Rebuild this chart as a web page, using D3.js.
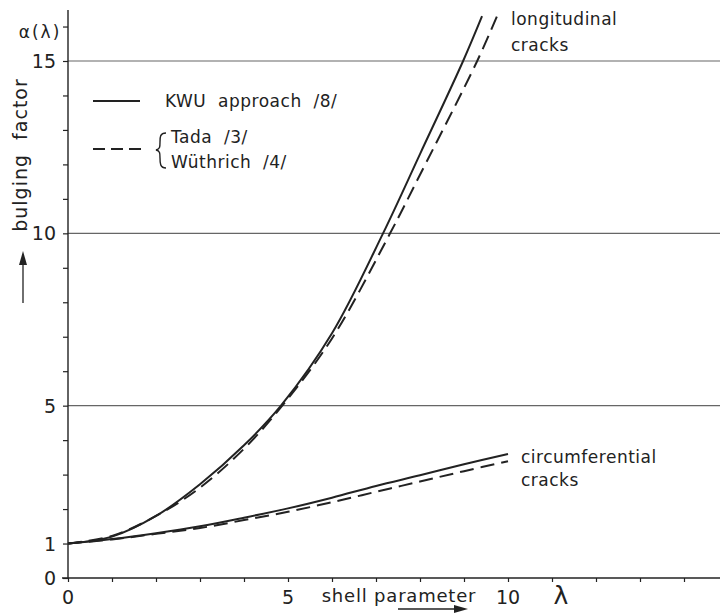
<!DOCTYPE html>
<html>
<head>
<meta charset="utf-8">
<script src="https://cdn.jsdelivr.net/npm/d3@7"></script>
<style>
  body { margin: 0; background: #fff; }
  svg text { font-family: "DejaVu Sans", sans-serif; fill: #222; white-space: pre; }
</style>
</head>
<body>
<div id="container"></div>
<script>
let width = 720;
let height = 613;

// values (lambda, alpha)
var longLambda  = [0, 1, 2, 3, 4, 4.84, 6, 7.16, 8, 8.98, 9.41];
var longKwu     = [1, 1.2, 1.8, 2.72, 3.85, 5, 7.1, 10, 12.3, 15, 16.3];
var longDashLambda = [0, 1, 2, 3, 4, 4.87, 6, 7.32, 8, 9.3, 9.75];
var longTada       = [1, 1.22, 1.8, 2.62, 3.75, 5, 6.95, 10, 11.7, 15, 16.3];

var circLambda = [0, 1, 2, 3, 4, 5, 6, 7, 8, 9, 10];
var circKwu    = [1, 1.13, 1.3, 1.5, 1.75, 2.02, 2.33, 2.67, 2.98, 3.3, 3.6];
var circTada   = [1, 1.12, 1.28, 1.45, 1.68, 1.92, 2.2, 2.5, 2.8, 3.1, 3.39];

var yLabelTicks = [0, 1, 5, 10, 15];
var yGrid = [5, 10, 15];
var xLabelTicks = [0, 5, 10];

let viz = d3.select("#container").append("svg")
    .attr("width", width)
    .attr("height", height);

let x = d3.scaleLinear().domain([0, 10]).range([68, 508]);
let y = d3.scaleLinear().domain([0, 15]).range([578, 61]);

let ink = "#222";

// grid lines
viz.selectAll(".grid")
  .data(yGrid)
  .enter().append("line")
    .attr("x1", x(0)).attr("x2", width)
    .attr("y1", d => y(d)).attr("y2", d => y(d))
    .attr("stroke", "#666").attr("stroke-width", 1.1);

// y axis
let yAxis = d3.axisLeft(y)
  .tickValues(d3.range(0, 17))
  .tickSize(5)
  .tickFormat("");
let yg = viz.append("g").attr("transform", "translate(" + x(0) + ",0)").call(yAxis);
yg.select(".domain").remove();
yg.selectAll("line").attr("stroke", ink).attr("stroke-width", 1.2);
viz.append("line")
  .attr("x1", x(0)).attr("x2", x(0)).attr("y1", y(0)).attr("y2", 10)
  .attr("stroke", ink).attr("stroke-width", 1.4);

// x axis
let xAxis = d3.axisBottom(x)
  .tickValues(d3.range(0, 15))
  .tickSize(4)
  .tickFormat("");
let xg = viz.append("g").attr("transform", "translate(0," + y(0) + ")").call(xAxis);
xg.select(".domain").remove();
xg.selectAll("line").attr("stroke", ink).attr("stroke-width", 1.2);
viz.append("line")
  .attr("x1", x(0) - 6).attr("x2", width).attr("y1", y(0)).attr("y2", y(0))
  .attr("stroke", ink).attr("stroke-width", 1.4);

// tick labels
viz.selectAll(".ylab")
  .data(yLabelTicks)
  .enter().append("text")
    .attr("x", 56)
    .attr("y", d => y(d) + 7)
    .attr("text-anchor", "end")
    .style("font-size", "19px")
    .text(d => d);

viz.selectAll(".xlab")
  .data(xLabelTicks)
  .enter().append("text")
    .attr("x", d => x(d))
    .attr("y", 604)
    .attr("text-anchor", "middle")
    .style("font-size", "19px")
    .text(d => d);

// axis titles
viz.append("text")
  .attr("x", 40).attr("y", 38)
  .attr("text-anchor", "middle")
  .style("font-size", "17px")
  .style("letter-spacing", "2px")
  .text("α(λ)");

viz.append("text")
  .attr("transform", "translate(27,155) rotate(-90)")
  .attr("text-anchor", "middle")
  .style("font-size", "19px")
  .style("letter-spacing", "1px")
  .text("bulging  factor");

viz.append("line")
  .attr("x1", 23).attr("x2", 23).attr("y1", 303).attr("y2", 262)
  .attr("stroke", ink).attr("stroke-width", 1.3);
viz.append("path")
  .attr("d", "M23,251 L19,265 L27,265 Z")
  .attr("fill", ink);

viz.append("text")
  .attr("x", 399).attr("y", 602)
  .attr("text-anchor", "middle")
  .style("font-size", "18px")
  .style("letter-spacing", "0.8px")
  .text("shell parameter");

viz.append("text")
  .attr("x", 561).attr("y", 604)
  .attr("text-anchor", "middle")
  .style("font-size", "25px")
  .text("λ");

viz.append("line")
  .attr("x1", 398).attr("x2", 456).attr("y1", 609).attr("y2", 609)
  .attr("stroke", ink).attr("stroke-width", 1.5);
viz.append("path")
  .attr("d", "M468,609 L454,605 L454,613 Z")
  .attr("fill", ink);

// curves
let line = d3.line()
  .x(d => x(d[0]))
  .y(d => y(d[1]))
  .curve(d3.curveCatmullRom);

let curves = [
  {lam: longLambda, val: longKwu, dash: null},
  {lam: longDashLambda, val: longTada, dash: "14,7"},
  {lam: circLambda, val: circKwu, dash: null},
  {lam: circLambda, val: circTada, dash: "14,7"}
];

viz.selectAll(".curve")
  .data(curves)
  .enter().append("path")
    .attr("d", d => line(d.lam.map((l, i) => [l, d.val[i]])))
    .attr("fill", "none")
    .attr("stroke", ink)
    .attr("stroke-width", 2)
    .attr("stroke-dasharray", d => d.dash);

// curve labels
viz.append("text").attr("x", 511).attr("y", 25).style("font-size", "17px").style("letter-spacing", "0.5px").text("longitudinal");
viz.append("text").attr("x", 511).attr("y", 51).style("font-size", "17px").style("letter-spacing", "0.5px").text("cracks");
viz.append("text").attr("x", 521).attr("y", 463).style("font-size", "17px").style("letter-spacing", "0.5px").text("circumferential");
viz.append("text").attr("x", 521).attr("y", 486).style("font-size", "17px").style("letter-spacing", "0.5px").text("cracks");

// legend
viz.append("line")
  .attr("x1", 93).attr("x2", 140).attr("y1", 101).attr("y2", 101)
  .attr("stroke", ink).attr("stroke-width", 2);
viz.append("text").attr("x", 165).attr("y", 107).style("font-size", "17px").style("letter-spacing", "0.5px").text("KWU  approach  /8/");

viz.append("line")
  .attr("x1", 93).attr("x2", 142).attr("y1", 149).attr("y2", 149)
  .attr("stroke", ink).attr("stroke-width", 2)
  .attr("stroke-dasharray", "12,6");
viz.append("path")
  .attr("d", "M166,133 C160,133 160,137 160,142 C160,147 160,149 156,150 C160,151 160,153 160,158 C160,163 160,168 166,168")
  .attr("fill", "none").attr("stroke", ink).attr("stroke-width", 1.4);
viz.append("text").attr("x", 171).attr("y", 143).style("font-size", "17px").style("letter-spacing", "0.5px").text("Tada  /3/");
viz.append("text").attr("x", 171).attr("y", 168).style("font-size", "17px").style("letter-spacing", "0.5px").text("Wüthrich  /4/");
</script>
</body>
</html>
